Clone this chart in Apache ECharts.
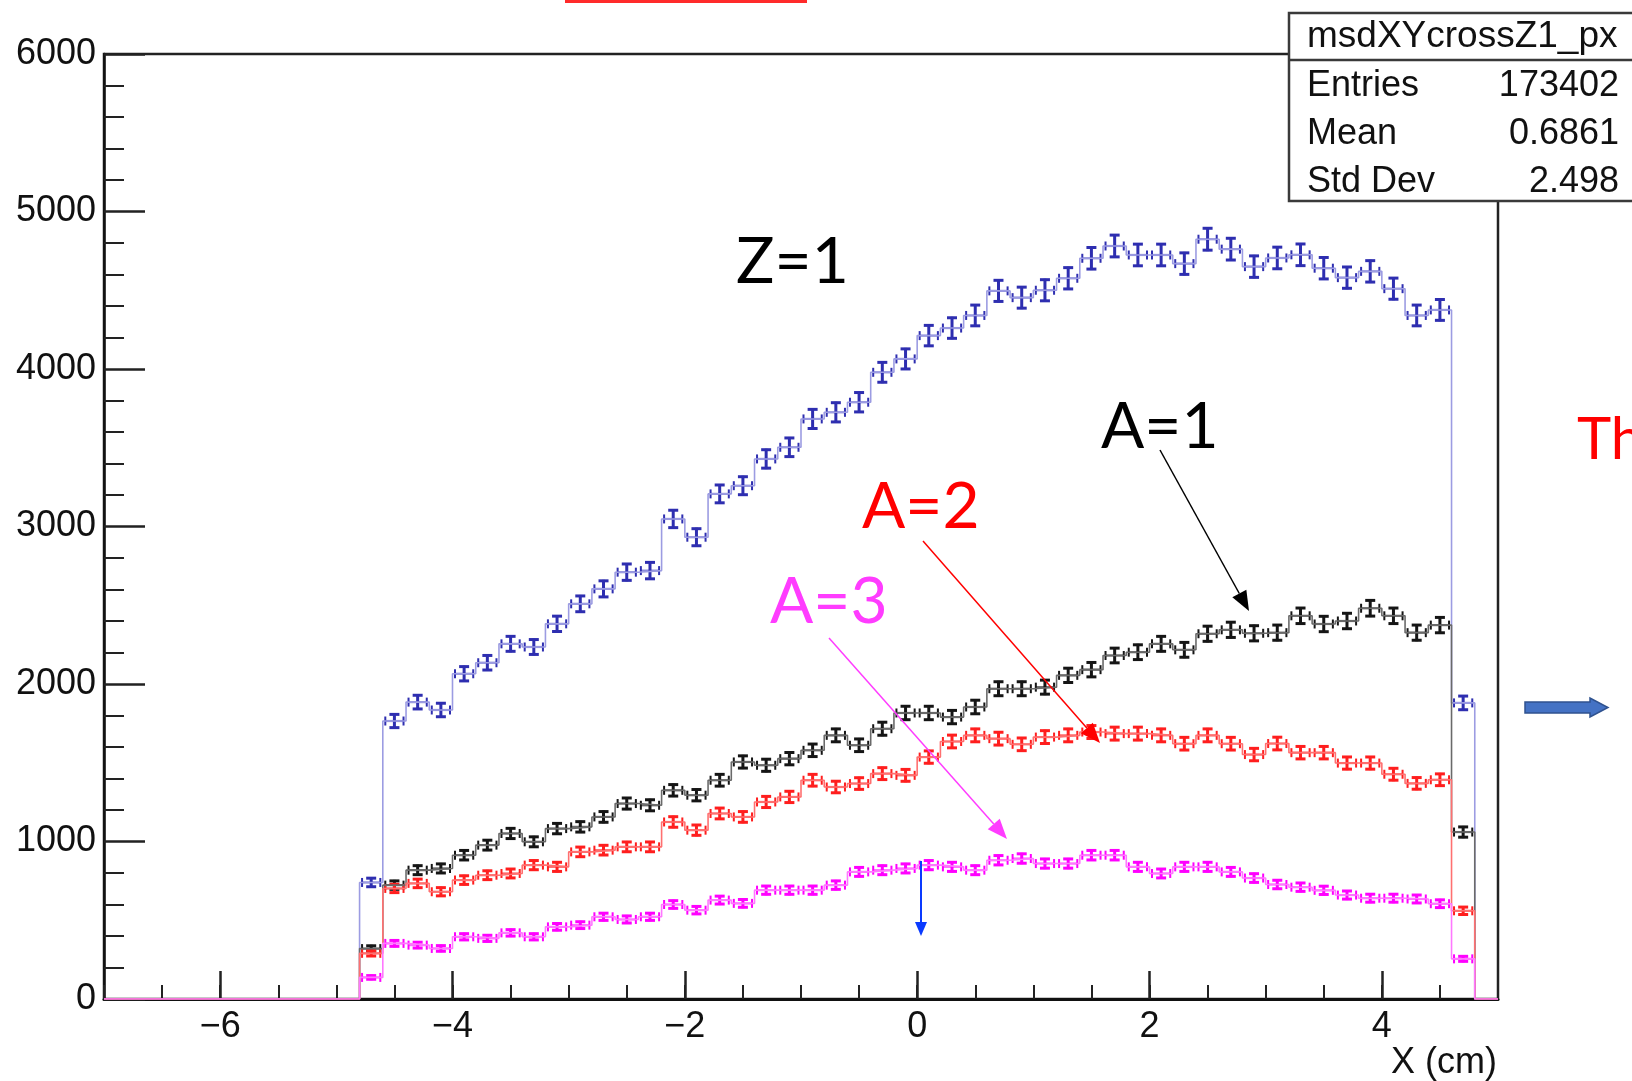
<!DOCTYPE html>
<html><head><meta charset="utf-8">
<script src="https://cdn.jsdelivr.net/npm/echarts@6/dist/echarts.min.js"></script>
<style>html,body{margin:0;padding:0;background:#fff}#c{width:1632px;height:1081px}</style>
</head><body><div id="c"></div>
<script>
// ---- data ----
const binCenters = [-4.7,-4.5,-4.3,-4.1,-3.9,-3.7,-3.5,-3.3,-3.1,-2.9,-2.7,-2.5,-2.3,-2.1,-1.9,-1.7,-1.5,-1.3,-1.1,-0.9,-0.7,-0.5,-0.3,-0.1,
                    0.1,0.3,0.5,0.7,0.9,1.1,1.3,1.5,1.7,1.9,2.1,2.3,2.5,2.7,2.9,3.1,3.3,3.5,3.7,3.9,4.1,4.3,4.5,4.7];
const binWidth = 0.2;
const xMin = -7, xMax = 5;
const yMin = 0, yMax = 6000;
const zTotal = [740,1765,1885,1835,2065,2135,2255,2235,2382,2509,2604,2710,2720,3048,2932,3207,3259,3429,3503,3683,3725,3789,3979,4064,
                4212,4260,4340,4496,4453,4500,4576,4703,4781,4724,4724,4669,4824,4761,4650,4705,4725,4640,4580,4620,4510,4340,4375,1880];
const a1 = [320,723,818,829,913,977,1051,998,1082,1093,1156,1241,1230,1325,1294,1389,1505,1484,1526,1579,1674,1611,1716,1816,
            1816,1790,1854,1970,1970,1980,2055,2091,2181,2202,2255,2217,2319,2344,2322,2326,2433,2381,2400,2481,2433,2326,2374,1060];
const a2 = [290,702,734,681,755,786,797,850,839,934,945,966,966,1124,1072,1178,1156,1251,1283,1389,1346,1368,1431,1420,
            1536,1635,1674,1653,1617,1663,1674,1695,1685,1685,1674,1621,1674,1621,1552,1622,1564,1564,1498,1498,1427,1369,1392,560];
const a3 = [137,353,342,321,395,385,420,395,458,469,522,505,522,600,564,628,607,691,691,691,723,807,818,829,
            850,839,818,881,892,860,860,913,913,839,797,839,839,807,768,727,710,690,660,640,640,635,605,255];
const xTicks = [-6,-4,-2,0,2,4];
const statsTitle = 'msdXYcrossZ1_px';
const statsLabels = ['Entries','Mean','Std Dev'];
const statsValues = ['173402','0.6861','2.498'];
const xTitle = 'X (cm)';

const FONT = '"Liberation Sans", Arial, Helvetica, sans-serif';
const ANN = 'Lato, "Open Sans", sans-serif';

function stepData(vals){
  const lo = binCenters[0]-binWidth/2, hi = binCenters[binCenters.length-1]+binWidth/2;
  const d = [[xMin,0],[lo,0]];
  vals.forEach((v,i)=>d.push([binCenters[i]-binWidth/2, v]));
  d.push([hi, vals[vals.length-1]]);
  d.push([hi, 0]);
  d.push([xMax, 0]);
  return d;
}
function stepSeries(vals, light){
  return {type:'line', step:'end', data:stepData(vals), showSymbol:false, silent:true, animation:false,
          lineStyle:{color:light, width:1.6}, xAxisIndex:0, yAxisIndex:0};
}
function errSeries(vals, dark, light){
  return {type:'custom', silent:true, animation:false, xAxisIndex:0, yAxisIndex:0,
    data: binCenters.map((c,i)=>[c, vals[i]]),
    encode:{x:0,y:1},
    renderItem(params, api){
      const x = api.value(0), v = api.value(1), e = Math.sqrt(v);
      const p = api.coord([x,v]);
      const pl = api.coord([x-binWidth/2, v]), pr = api.coord([x+binWidth/2, v]);
      const pt = api.coord([x, v+e]), pb = api.coord([x, v-e]);
      const cap = 5, et = 4.5;
      const L = (x1,y1,x2,y2,c,w)=>({type:'line',shape:{x1,y1,x2,y2},style:{stroke:c,lineWidth:w}});
      return {type:'group', children:[
        L(pl[0]+2,p[1],pr[0]-2,p[1],light,2.2),
        L(pl[0]+2.5,p[1]-et,pl[0]+2.5,p[1]+et,dark,2),
        L(pr[0]-2.5,p[1]-et,pr[0]-2.5,p[1]+et,dark,2),
        L(p[0],pt[1]-1,p[0],pb[1]+1,dark,3),
        L(p[0]-cap,pt[1],p[0]+cap,pt[1],dark,3),
        L(p[0]-cap,pb[1],p[0]+cap,pb[1],dark,3)
      ]};
    }};
}
function arrow(x1,y1,x2,y2,color,w,hl,hw){
  const a = Math.atan2(y2-y1,x2-x1), ca=Math.cos(a), sa=Math.sin(a);
  const bx = x2-hl*ca, by = y2-hl*sa;
  return [
    {type:'line', shape:{x1,y1,x2:bx,y2:by}, style:{stroke:color,lineWidth:w}, z:100},
    {type:'polygon', shape:{points:[[x2,y2],[bx-hw*sa,by+hw*ca],[bx+hw*sa,by-hw*ca]]}, style:{fill:color}, z:100}
  ];
}

const chart = echarts.init(document.getElementById('c'), null, {renderer:'canvas'});
const tickFmt = v => (v<0 ? '\u2212'+(-v) : String(v));

const graphics = [
  // stats box
  {type:'rect', shape:{x:1289,y:13,width:400,height:188}, style:{fill:'#fff',stroke:'#3a3a3a',lineWidth:2.5}, z:200},
  {type:'line', shape:{x1:1289,y1:60,x2:1632,y2:60}, style:{stroke:'#3a3a3a',lineWidth:2.5}, z:201},
  {type:'text', x:1307, y:37, style:{text:statsTitle,font:'37px '+FONT,fill:'#111',verticalAlign:'middle'}, z:202},
  // top red underline (cropped title)
  {type:'rect', shape:{x:565,y:0,width:242,height:3}, style:{fill:'#ff2a2a'}, z:50},
  // annotations
  {type:'text', x:736, y:262, style:{text:'Z=1',font:'64px '+ANN,fill:'#000',verticalAlign:'middle'}, z:100},
  {type:'text', x:1101, y:427, style:{text:'A=1',font:'64px '+ANN,fill:'#000',verticalAlign:'middle'}, z:100},
  {type:'text', x:862, y:507, style:{text:'A=2',font:'64px '+ANN,fill:'#ff0000',verticalAlign:'middle'}, z:100},
  {type:'text', x:770, y:602, style:{text:'A=3',font:'64px '+ANN,fill:'#ff3cff',verticalAlign:'middle'}, z:100},
  {type:'text', x:1577, y:440, style:{text:'Th',font:'58px '+ANN,fill:'#ff0000',verticalAlign:'middle'}, z:100},
  // x axis title
  {type:'text', x:1497, y:1063, style:{text:xTitle,font:'36px '+FONT,fill:'#111',align:'right',verticalAlign:'middle'}, z:100},
  // block arrow on the right
  {type:'polygon', shape:{points:[[1525,702],[1590,702],[1590,698],[1608,707.5],[1590,717],[1590,713],[1525,713]]},
   style:{fill:'#4472c4',stroke:'#2f528f',lineWidth:1.5}, z:100}
];
statsLabels.forEach((t,i)=>{
  graphics.push({type:'text', x:1307, y:86+48*i, style:{text:t,font:'36px '+FONT,fill:'#111',verticalAlign:'middle'}, z:202});
  graphics.push({type:'text', x:1619, y:86+48*i, style:{text:statsValues[i],font:'36px '+FONT,fill:'#111',align:'right',verticalAlign:'middle'}, z:202});
});
graphics.push(...arrow(1160,450,1249,611,'#000',1.5,20,8));
graphics.push(...arrow(923,541,1100,743,'#ff0000',1.5,20,8));
graphics.push(...arrow(829,638,1007,839,'#ff3cff',1.5,20,8));
graphics.push(...arrow(921,861,921,936,'#0a3aff',2,14,6));

chart.setOption({
  animation:false,
  backgroundColor:'#fff',
  grid:{left:104, top:54, right:134, bottom:82, show:true, borderColor:'#222', borderWidth:2.5, containLabel:false, outerBoundsMode:'none'},
  xAxis:[
    {type:'value', min:xMin, max:xMax, interval:0.5, position:'bottom',
     axisLine:{show:true,onZero:false,lineStyle:{color:'#111',width:3}},
     axisTick:{show:true,inside:true,length:14,lineStyle:{color:'#222',width:2}},
     axisLabel:{show:true,customValues:xTicks,formatter:tickFmt,fontSize:36,fontFamily:FONT,color:'#111',margin:10},
     splitLine:{show:false}},
    {type:'value', min:xMin, max:xMax, interval:0.5, position:'bottom',
     axisLine:{show:false,onZero:false},
     axisTick:{show:true,inside:true,length:28,customValues:xTicks,lineStyle:{color:'#222',width:2.5}},
     axisLabel:{show:false}, splitLine:{show:false}}
  ],
  yAxis:[{type:'value', min:yMin, max:yMax, interval:1000,
     axisLine:{show:true,onZero:false,lineStyle:{color:'#111',width:2.5}},
     axisTick:{show:true,inside:true,length:41,lineStyle:{color:'#222',width:2.5}},
     minorTick:{show:true,splitNumber:5,length:20,lineStyle:{color:'#222',width:2}},
     axisLabel:{fontSize:36,fontFamily:FONT,color:'#111',margin:8,formatter:v=>String(v)},
     splitLine:{show:false}}],
  series:[
    stepSeries(zTotal,'#9c9ce2'), errSeries(zTotal,'#2e2eb0','#8c8cd8'),
    stepSeries(a1,'#6a6a6a'), errSeries(a1,'#151515','#6a6a6a'),
    stepSeries(a2,'#ff7070'), errSeries(a2,'#ff1e1e','#ff6a6a'),
    stepSeries(a3,'#ff78ff'), errSeries(a3,'#ff00ff','#ff6cff')
  ],
  graphic:graphics
});
</script></body></html>
